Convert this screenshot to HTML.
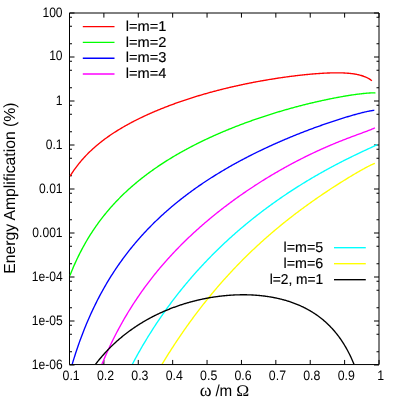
<!DOCTYPE html><html><head><meta charset="utf-8"><title>plot</title>
<style>html,body{margin:0;padding:0;background:#fff;}svg{display:block;will-change:transform;}text{font-family:"Liberation Sans",sans-serif;fill:#000;text-rendering:geometricPrecision;}</style></head><body>
<svg width="396" height="398" viewBox="0 0 396 398">
<rect width="396" height="398" fill="#fff"/>
<g stroke="#000" stroke-width="1" fill="none">
<path d="M69.50,13.00 L379.00,13.00 L379.00,364.55 L69.50,364.55 Z"/>
<path d="M69.50,364.55 v-4.6 M69.50,13.00 v4.6"/>
<path d="M103.89,364.55 v-4.6 M103.89,13.00 v4.6"/>
<path d="M138.28,364.55 v-4.6 M138.28,13.00 v4.6"/>
<path d="M172.67,364.55 v-4.6 M172.67,13.00 v4.6"/>
<path d="M207.06,364.55 v-4.6 M207.06,13.00 v4.6"/>
<path d="M241.44,364.55 v-4.6 M241.44,13.00 v4.6"/>
<path d="M275.83,364.55 v-4.6 M275.83,13.00 v4.6"/>
<path d="M310.22,364.55 v-4.6 M310.22,13.00 v4.6"/>
<path d="M344.61,364.55 v-4.6 M344.61,13.00 v4.6"/>
<path d="M379.00,364.55 v-4.6 M379.00,13.00 v4.6"/>
<path d="M69.50,13.00 h5 M379.00,13.00 h-5"/>
<path d="M69.50,43.75 h2.5 M379.00,43.75 h-2.5"/>
<path d="M69.50,26.25 h2.5 M379.00,26.25 h-2.5"/>
<path d="M69.50,17.26 h2.5 M379.00,17.26 h-2.5"/>
<path d="M69.50,57.00 h5 M379.00,57.00 h-5"/>
<path d="M69.50,87.75 h2.5 M379.00,87.75 h-2.5"/>
<path d="M69.50,70.25 h2.5 M379.00,70.25 h-2.5"/>
<path d="M69.50,61.26 h2.5 M379.00,61.26 h-2.5"/>
<path d="M69.50,101.00 h5 M379.00,101.00 h-5"/>
<path d="M69.50,131.75 h2.5 M379.00,131.75 h-2.5"/>
<path d="M69.50,114.25 h2.5 M379.00,114.25 h-2.5"/>
<path d="M69.50,105.26 h2.5 M379.00,105.26 h-2.5"/>
<path d="M69.50,145.00 h5 M379.00,145.00 h-5"/>
<path d="M69.50,175.75 h2.5 M379.00,175.75 h-2.5"/>
<path d="M69.50,158.25 h2.5 M379.00,158.25 h-2.5"/>
<path d="M69.50,149.26 h2.5 M379.00,149.26 h-2.5"/>
<path d="M69.50,189.00 h5 M379.00,189.00 h-5"/>
<path d="M69.50,219.75 h2.5 M379.00,219.75 h-2.5"/>
<path d="M69.50,202.25 h2.5 M379.00,202.25 h-2.5"/>
<path d="M69.50,193.26 h2.5 M379.00,193.26 h-2.5"/>
<path d="M69.50,233.00 h5 M379.00,233.00 h-5"/>
<path d="M69.50,263.75 h2.5 M379.00,263.75 h-2.5"/>
<path d="M69.50,246.25 h2.5 M379.00,246.25 h-2.5"/>
<path d="M69.50,237.26 h2.5 M379.00,237.26 h-2.5"/>
<path d="M69.50,277.00 h5 M379.00,277.00 h-5"/>
<path d="M69.50,307.75 h2.5 M379.00,307.75 h-2.5"/>
<path d="M69.50,290.25 h2.5 M379.00,290.25 h-2.5"/>
<path d="M69.50,281.26 h2.5 M379.00,281.26 h-2.5"/>
<path d="M69.50,321.00 h5 M379.00,321.00 h-5"/>
<path d="M69.50,351.75 h2.5 M379.00,351.75 h-2.5"/>
<path d="M69.50,334.25 h2.5 M379.00,334.25 h-2.5"/>
<path d="M69.50,325.26 h2.5 M379.00,325.26 h-2.5"/>
<path d="M69.50,365.00 h5 M379.00,365.00 h-5"/>
</g>
<defs><clipPath id="cp"><rect x="69.50" y="13.00" width="309.50" height="350.95"/></clipPath></defs>
<g fill="none" stroke-width="1.35" stroke-linejoin="round" clip-path="url(#cp)">
<path d="M70.00,176.18 L70.76,174.98 L71.51,173.80 L72.27,172.66 L73.03,171.54 L73.78,170.44 L74.54,169.37 L75.30,168.33 L76.05,167.30 L76.81,166.30 L77.57,165.32 L78.32,164.35 L79.08,163.41 L79.84,162.48 L80.59,161.57 L81.35,160.68 L82.11,159.81 L82.86,158.95 L83.62,158.11 L84.38,157.28 L85.13,156.46 L85.89,155.66 L86.65,154.88 L87.40,154.10 L88.16,153.34 L88.92,152.59 L89.67,151.85 L90.43,151.12 L91.19,150.41 L91.94,149.70 L92.70,149.01 L93.46,148.32 L94.21,147.65 L94.97,146.98 L95.73,146.33 L96.48,145.68 L97.24,145.04 L98.00,144.41 L98.75,143.79 L99.51,143.17 L100.27,142.57 L101.02,141.97 L101.78,141.38 L102.54,140.79 L103.29,140.22 L104.05,139.65 L104.81,139.08 L105.56,138.53 L106.32,137.97 L107.08,137.43 L107.83,136.89 L108.59,136.36 L109.35,135.83 L110.10,135.31 L110.86,134.80 L111.62,134.29 L112.37,133.78 L113.13,133.28 L113.89,132.79 L114.64,132.30 L115.40,131.81 L116.16,131.33 L116.91,130.86 L117.67,130.39 L118.43,129.92 L119.18,129.46 L119.94,129.00 L120.69,128.55 L121.45,128.10 L122.21,127.65 L122.96,127.21 L123.72,126.77 L124.48,126.34 L125.23,125.91 L125.99,125.48 L126.75,125.06 L127.50,124.64 L128.26,124.22 L129.02,123.81 L129.77,123.40 L130.53,122.99 L131.29,122.59 L132.04,122.19 L132.80,121.80 L133.56,121.40 L134.31,121.01 L135.07,120.63 L135.83,120.24 L136.58,119.86 L137.34,119.48 L138.10,119.11 L138.85,118.73 L139.61,118.36 L140.37,117.99 L141.12,117.63 L141.88,117.27 L142.64,116.91 L143.39,116.55 L144.15,116.20 L144.91,115.84 L145.66,115.49 L146.42,115.15 L147.18,114.80 L147.93,114.46 L148.69,114.12 L149.45,113.78 L150.20,113.44 L150.96,113.11 L151.72,112.78 L152.47,112.45 L153.23,112.12 L153.99,111.80 L154.74,111.47 L155.50,111.15 L156.26,110.84 L157.01,110.52 L157.77,110.20 L158.53,109.89 L159.28,109.58 L160.04,109.27 L160.80,108.96 L161.55,108.66 L162.31,108.36 L163.07,108.05 L163.82,107.76 L164.58,107.46 L165.34,107.16 L166.09,106.87 L166.85,106.58 L167.61,106.29 L168.36,106.00 L169.12,105.71 L169.88,105.42 L170.63,105.14 L171.39,104.86 L172.15,104.58 L172.90,104.30 L173.66,104.02 L174.42,103.75 L175.17,103.48 L175.93,103.20 L176.69,102.93 L177.44,102.66 L178.20,102.40 L178.96,102.13 L179.71,101.87 L180.47,101.60 L181.23,101.34 L181.98,101.08 L182.74,100.83 L183.50,100.57 L184.25,100.32 L185.01,100.06 L185.77,99.81 L186.52,99.56 L187.28,99.31 L188.04,99.06 L188.79,98.82 L189.55,98.57 L190.31,98.33 L191.06,98.09 L191.82,97.84 L192.58,97.61 L193.33,97.37 L194.09,97.13 L194.85,96.90 L195.60,96.66 L196.36,96.43 L197.12,96.20 L197.87,95.97 L198.63,95.74 L199.39,95.51 L200.14,95.29 L200.90,95.06 L201.66,94.84 L202.41,94.62 L203.17,94.40 L203.93,94.18 L204.68,93.96 L205.44,93.74 L206.20,93.53 L206.95,93.31 L207.71,93.10 L208.47,92.89 L209.22,92.68 L209.98,92.47 L210.74,92.26 L211.49,92.05 L212.25,91.85 L213.01,91.64 L213.76,91.44 L214.52,91.24 L215.28,91.04 L216.03,90.84 L216.79,90.64 L217.55,90.44 L218.30,90.25 L219.06,90.05 L219.82,89.86 L220.57,89.67 L221.33,89.48 L222.08,89.28 L222.84,89.10 L223.60,88.91 L224.35,88.72 L225.11,88.54 L225.87,88.35 L226.62,88.17 L227.38,87.99 L228.14,87.80 L228.89,87.62 L229.65,87.45 L230.41,87.27 L231.16,87.09 L231.92,86.91 L232.68,86.74 L233.43,86.57 L234.19,86.39 L234.95,86.22 L235.70,86.05 L236.46,85.88 L237.22,85.72 L237.97,85.55 L238.73,85.38 L239.49,85.22 L240.24,85.05 L241.00,84.89 L241.76,84.73 L242.51,84.57 L243.27,84.41 L244.03,84.25 L244.78,84.09 L245.54,83.94 L246.30,83.78 L247.05,83.63 L247.81,83.47 L248.57,83.32 L249.32,83.17 L250.08,83.02 L250.84,82.87 L251.59,82.72 L252.35,82.57 L253.11,82.43 L253.86,82.28 L254.62,82.14 L255.38,81.99 L256.13,81.85 L256.89,81.71 L257.65,81.57 L258.40,81.43 L259.16,81.29 L259.92,81.15 L260.67,81.02 L261.43,80.88 L262.19,80.75 L262.94,80.61 L263.70,80.48 L264.46,80.35 L265.21,80.22 L265.97,80.09 L266.73,79.96 L267.48,79.83 L268.24,79.70 L269.00,79.58 L269.75,79.45 L270.51,79.33 L271.27,79.21 L272.02,79.08 L272.78,78.96 L273.54,78.84 L274.29,78.72 L275.05,78.61 L275.81,78.49 L276.56,78.37 L277.32,78.26 L278.08,78.14 L278.83,78.03 L279.59,77.92 L280.35,77.80 L281.10,77.69 L281.86,77.58 L282.62,77.48 L283.37,77.37 L284.13,77.26 L284.89,77.16 L285.64,77.05 L286.40,76.95 L287.16,76.84 L287.91,76.74 L288.67,76.64 L289.43,76.54 L290.18,76.44 L290.94,76.34 L291.70,76.25 L292.45,76.15 L293.21,76.06 L293.97,75.96 L294.72,75.87 L295.48,75.78 L296.24,75.69 L296.99,75.60 L297.75,75.51 L298.51,75.42 L299.26,75.34 L300.02,75.25 L300.78,75.17 L301.53,75.08 L302.29,75.00 L303.05,74.92 L303.80,74.84 L304.56,74.76 L305.32,74.69 L306.07,74.61 L306.83,74.53 L307.59,74.46 L308.34,74.39 L309.10,74.32 L309.86,74.25 L310.61,74.18 L311.37,74.11 L312.13,74.04 L312.88,73.98 L313.64,73.92 L314.40,73.85 L315.15,73.79 L315.91,73.73 L316.67,73.68 L317.42,73.62 L318.18,73.57 L318.94,73.51 L319.69,73.46 L320.45,73.41 L321.21,73.36 L321.96,73.32 L322.72,73.27 L323.47,73.23 L324.23,73.19 L324.99,73.15 L325.74,73.11 L326.50,73.08 L327.26,73.04 L328.01,73.01 L328.77,72.98 L329.53,72.96 L330.28,72.93 L331.04,72.91 L331.80,72.89 L332.55,72.87 L333.31,72.86 L334.07,72.85 L334.82,72.84 L335.58,72.83 L336.34,72.83 L337.09,72.83 L337.85,72.83 L338.61,72.84 L339.36,72.85 L340.12,72.86 L340.88,72.88 L341.63,72.90 L342.39,72.92 L343.15,72.95 L343.90,72.98 L344.66,73.02 L345.42,73.06 L346.17,73.11 L346.93,73.16 L347.69,73.22 L348.44,73.28 L349.20,73.35 L349.96,73.42 L350.71,73.50 L351.47,73.59 L352.23,73.68 L352.98,73.79 L353.74,73.90 L354.50,74.01 L355.25,74.14 L356.01,74.27 L356.77,74.42 L357.52,74.57 L358.28,74.74 L359.04,74.92 L359.79,75.10 L360.55,75.31 L361.31,75.52 L362.06,75.75 L362.82,76.00 L363.58,76.26 L364.33,76.54 L365.09,76.84 L365.85,77.16 L366.60,77.51 L367.36,77.88 L368.12,78.27 L368.87,78.70 L369.63,79.16 L370.39,79.65 L371.14,80.18 L371.90,80.76" stroke="#ff0000"/>
<path d="M70.00,275.40 L70.77,273.46 L71.53,271.56 L72.30,269.70 L73.06,267.88 L73.83,266.10 L74.59,264.36 L75.36,262.65 L76.12,260.97 L76.89,259.33 L77.65,257.72 L78.42,256.14 L79.18,254.59 L79.95,253.06 L80.72,251.57 L81.48,250.09 L82.25,248.65 L83.01,247.23 L83.78,245.83 L84.54,244.46 L85.31,243.11 L86.07,241.78 L86.84,240.47 L87.60,239.18 L88.37,237.91 L89.14,236.66 L89.90,235.43 L90.67,234.21 L91.43,233.02 L92.20,231.84 L92.96,230.68 L93.73,229.53 L94.49,228.40 L95.26,227.28 L96.02,226.18 L96.79,225.10 L97.55,224.03 L98.32,222.97 L99.09,221.92 L99.85,220.89 L100.62,219.87 L101.38,218.87 L102.15,217.88 L102.91,216.89 L103.68,215.92 L104.44,214.97 L105.21,214.02 L105.97,213.08 L106.74,212.16 L107.51,211.24 L108.27,210.34 L109.04,209.44 L109.80,208.56 L110.57,207.68 L111.33,206.81 L112.10,205.96 L112.86,205.11 L113.63,204.27 L114.39,203.44 L115.16,202.62 L115.92,201.80 L116.69,201.00 L117.46,200.20 L118.22,199.41 L118.99,198.63 L119.75,197.85 L120.52,197.08 L121.28,196.32 L122.05,195.57 L122.81,194.83 L123.58,194.09 L124.34,193.35 L125.11,192.63 L125.88,191.91 L126.64,191.20 L127.41,190.49 L128.17,189.79 L128.94,189.10 L129.70,188.41 L130.47,187.73 L131.23,187.05 L132.00,186.38 L132.76,185.72 L133.53,185.06 L134.29,184.40 L135.06,183.75 L135.83,183.11 L136.59,182.47 L137.36,181.84 L138.12,181.21 L138.89,180.59 L139.65,179.97 L140.42,179.35 L141.18,178.75 L141.95,178.14 L142.71,177.54 L143.48,176.95 L144.25,176.36 L145.01,175.77 L145.78,175.19 L146.54,174.61 L147.31,174.04 L148.07,173.47 L148.84,172.90 L149.60,172.34 L150.37,171.79 L151.13,171.23 L151.90,170.68 L152.66,170.14 L153.43,169.60 L154.20,169.06 L154.96,168.52 L155.73,167.99 L156.49,167.47 L157.26,166.94 L158.02,166.42 L158.79,165.91 L159.55,165.39 L160.32,164.88 L161.08,164.38 L161.85,163.87 L162.62,163.37 L163.38,162.88 L164.15,162.38 L164.91,161.89 L165.68,161.41 L166.44,160.92 L167.21,160.44 L167.97,159.96 L168.74,159.49 L169.50,159.02 L170.27,158.55 L171.03,158.08 L171.80,157.62 L172.57,157.16 L173.33,156.70 L174.10,156.24 L174.86,155.79 L175.63,155.34 L176.39,154.89 L177.16,154.45 L177.92,154.01 L178.69,153.57 L179.45,153.13 L180.22,152.69 L180.98,152.26 L181.75,151.83 L182.52,151.41 L183.28,150.98 L184.05,150.56 L184.81,150.14 L185.58,149.72 L186.34,149.30 L187.11,148.89 L187.87,148.48 L188.64,148.07 L189.40,147.67 L190.17,147.26 L190.94,146.86 L191.70,146.46 L192.47,146.06 L193.23,145.67 L194.00,145.27 L194.76,144.88 L195.53,144.49 L196.29,144.11 L197.06,143.72 L197.82,143.34 L198.59,142.96 L199.35,142.58 L200.12,142.20 L200.89,141.83 L201.65,141.45 L202.42,141.08 L203.18,140.71 L203.95,140.34 L204.71,139.98 L205.48,139.62 L206.24,139.25 L207.01,138.89 L207.77,138.54 L208.54,138.18 L209.31,137.82 L210.07,137.47 L210.84,137.12 L211.60,136.77 L212.37,136.42 L213.13,136.08 L213.90,135.73 L214.66,135.39 L215.43,135.05 L216.19,134.71 L216.96,134.37 L217.72,134.04 L218.49,133.70 L219.26,133.37 L220.02,133.04 L220.79,132.71 L221.55,132.38 L222.32,132.06 L223.08,131.73 L223.85,131.41 L224.61,131.09 L225.38,130.77 L226.14,130.45 L226.91,130.13 L227.68,129.81 L228.44,129.50 L229.21,129.19 L229.97,128.88 L230.74,128.57 L231.50,128.26 L232.27,127.95 L233.03,127.65 L233.80,127.34 L234.56,127.04 L235.33,126.74 L236.09,126.44 L236.86,126.14 L237.63,125.85 L238.39,125.55 L239.16,125.26 L239.92,124.97 L240.69,124.67 L241.45,124.38 L242.22,124.10 L242.98,123.81 L243.75,123.52 L244.51,123.24 L245.28,122.96 L246.05,122.67 L246.81,122.39 L247.58,122.11 L248.34,121.84 L249.11,121.56 L249.87,121.29 L250.64,121.01 L251.40,120.74 L252.17,120.47 L252.93,120.20 L253.70,119.93 L254.46,119.66 L255.23,119.39 L256.00,119.13 L256.76,118.87 L257.53,118.60 L258.29,118.34 L259.06,118.08 L259.82,117.82 L260.59,117.56 L261.35,117.31 L262.12,117.05 L262.88,116.80 L263.65,116.55 L264.42,116.29 L265.18,116.04 L265.95,115.79 L266.71,115.55 L267.48,115.30 L268.24,115.05 L269.01,114.81 L269.77,114.56 L270.54,114.32 L271.30,114.08 L272.07,113.84 L272.83,113.60 L273.60,113.36 L274.37,113.13 L275.13,112.89 L275.90,112.66 L276.66,112.43 L277.43,112.19 L278.19,111.96 L278.96,111.73 L279.72,111.50 L280.49,111.28 L281.25,111.05 L282.02,110.83 L282.78,110.60 L283.55,110.38 L284.32,110.16 L285.08,109.94 L285.85,109.72 L286.61,109.50 L287.38,109.28 L288.14,109.06 L288.91,108.85 L289.67,108.63 L290.44,108.42 L291.20,108.21 L291.97,108.00 L292.74,107.79 L293.50,107.58 L294.27,107.37 L295.03,107.17 L295.80,106.96 L296.56,106.76 L297.33,106.55 L298.09,106.35 L298.86,106.15 L299.62,105.95 L300.39,105.75 L301.15,105.55 L301.92,105.36 L302.69,105.16 L303.45,104.97 L304.22,104.77 L304.98,104.58 L305.75,104.39 L306.51,104.20 L307.28,104.01 L308.04,103.82 L308.81,103.64 L309.57,103.45 L310.34,103.27 L311.11,103.08 L311.87,102.90 L312.64,102.72 L313.40,102.54 L314.17,102.36 L314.93,102.18 L315.70,102.01 L316.46,101.83 L317.23,101.65 L317.99,101.48 L318.76,101.31 L319.52,101.14 L320.29,100.97 L321.06,100.80 L321.82,100.63 L322.59,100.46 L323.35,100.30 L324.12,100.13 L324.88,99.97 L325.65,99.81 L326.41,99.65 L327.18,99.49 L327.94,99.33 L328.71,99.17 L329.48,99.01 L330.24,98.86 L331.01,98.70 L331.77,98.55 L332.54,98.40 L333.30,98.25 L334.07,98.10 L334.83,97.95 L335.60,97.81 L336.36,97.66 L337.13,97.52 L337.89,97.37 L338.66,97.23 L339.43,97.09 L340.19,96.95 L340.96,96.81 L341.72,96.68 L342.49,96.54 L343.25,96.41 L344.02,96.28 L344.78,96.15 L345.55,96.02 L346.31,95.89 L347.08,95.76 L347.85,95.64 L348.61,95.52 L349.38,95.40 L350.14,95.28 L350.91,95.16 L351.67,95.04 L352.44,94.93 L353.20,94.81 L353.97,94.70 L354.73,94.59 L355.50,94.49 L356.26,94.38 L357.03,94.28 L357.80,94.18 L358.56,94.08 L359.33,93.98 L360.09,93.89 L360.86,93.80 L361.62,93.71 L362.39,93.62 L363.15,93.54 L363.92,93.46 L364.68,93.38 L365.45,93.31 L366.22,93.24 L366.98,93.18 L367.75,93.12 L368.51,93.07 L369.28,93.02 L370.04,92.97 L370.81,92.94 L371.57,92.91 L372.34,92.90 L373.10,92.89 L373.87,92.90 L374.63,92.92 L375.40,92.97" stroke="#00ff00"/>
<path d="M71.79,365.64 L72.56,363.08 L73.32,360.56 L74.08,358.10 L74.85,355.68 L75.61,353.32 L76.38,351.00 L77.14,348.72 L77.90,346.48 L78.67,344.29 L79.43,342.14 L80.19,340.02 L80.96,337.94 L81.72,335.90 L82.49,333.89 L83.25,331.91 L84.01,329.97 L84.78,328.06 L85.54,326.18 L86.31,324.33 L87.07,322.50 L87.83,320.71 L88.60,318.94 L89.36,317.19 L90.13,315.48 L90.89,313.79 L91.65,312.12 L92.42,310.47 L93.18,308.85 L93.95,307.25 L94.71,305.67 L95.47,304.11 L96.24,302.58 L97.00,301.06 L97.76,299.56 L98.53,298.08 L99.29,296.62 L100.06,295.18 L100.82,293.76 L101.58,292.35 L102.35,290.96 L103.11,289.59 L103.88,288.23 L104.64,286.89 L105.40,285.57 L106.17,284.26 L106.93,282.96 L107.70,281.68 L108.46,280.41 L109.22,279.16 L109.99,277.92 L110.75,276.69 L111.52,275.48 L112.28,274.28 L113.04,273.09 L113.81,271.91 L114.57,270.75 L115.33,269.60 L116.10,268.46 L116.86,267.33 L117.63,266.21 L118.39,265.10 L119.15,264.01 L119.92,262.92 L120.68,261.85 L121.45,260.78 L122.21,259.73 L122.97,258.68 L123.74,257.65 L124.50,256.62 L125.27,255.60 L126.03,254.60 L126.79,253.60 L127.56,252.61 L128.32,251.63 L129.08,250.65 L129.85,249.69 L130.61,248.73 L131.38,247.79 L132.14,246.85 L132.90,245.92 L133.67,244.99 L134.43,244.07 L135.20,243.17 L135.96,242.26 L136.72,241.37 L137.49,240.48 L138.25,239.60 L139.02,238.73 L139.78,237.87 L140.54,237.01 L141.31,236.15 L142.07,235.31 L142.84,234.47 L143.60,233.64 L144.36,232.81 L145.13,231.99 L145.89,231.17 L146.65,230.37 L147.42,229.56 L148.18,228.77 L148.95,227.98 L149.71,227.19 L150.47,226.41 L151.24,225.64 L152.00,224.87 L152.77,224.11 L153.53,223.35 L154.29,222.60 L155.06,221.85 L155.82,221.11 L156.59,220.37 L157.35,219.64 L158.11,218.91 L158.88,218.19 L159.64,217.47 L160.41,216.76 L161.17,216.05 L161.93,215.35 L162.70,214.65 L163.46,213.96 L164.22,213.27 L164.99,212.59 L165.75,211.91 L166.52,211.23 L167.28,210.56 L168.04,209.89 L168.81,209.23 L169.57,208.57 L170.34,207.91 L171.10,207.26 L171.86,206.61 L172.63,205.97 L173.39,205.33 L174.16,204.70 L174.92,204.06 L175.68,203.44 L176.45,202.81 L177.21,202.19 L177.98,201.57 L178.74,200.96 L179.50,200.35 L180.27,199.75 L181.03,199.14 L181.79,198.54 L182.56,197.95 L183.32,197.36 L184.09,196.77 L184.85,196.18 L185.61,195.60 L186.38,195.02 L187.14,194.44 L187.91,193.87 L188.67,193.30 L189.43,192.74 L190.20,192.17 L190.96,191.61 L191.73,191.06 L192.49,190.50 L193.25,189.95 L194.02,189.40 L194.78,188.86 L195.55,188.31 L196.31,187.77 L197.07,187.24 L197.84,186.70 L198.60,186.17 L199.36,185.64 L200.13,185.12 L200.89,184.60 L201.66,184.08 L202.42,183.56 L203.18,183.04 L203.95,182.53 L204.71,182.02 L205.48,181.51 L206.24,181.01 L207.00,180.51 L207.77,180.01 L208.53,179.51 L209.30,179.01 L210.06,178.52 L210.82,178.03 L211.59,177.54 L212.35,177.06 L213.12,176.58 L213.88,176.10 L214.64,175.62 L215.41,175.14 L216.17,174.67 L216.93,174.20 L217.70,173.73 L218.46,173.26 L219.23,172.80 L219.99,172.33 L220.75,171.87 L221.52,171.41 L222.28,170.96 L223.05,170.50 L223.81,170.05 L224.57,169.60 L225.34,169.15 L226.10,168.71 L226.87,168.26 L227.63,167.82 L228.39,167.38 L229.16,166.95 L229.92,166.51 L230.68,166.08 L231.45,165.64 L232.21,165.21 L232.98,164.78 L233.74,164.36 L234.50,163.93 L235.27,163.51 L236.03,163.09 L236.80,162.67 L237.56,162.25 L238.32,161.84 L239.09,161.43 L239.85,161.01 L240.62,160.60 L241.38,160.20 L242.14,159.79 L242.91,159.38 L243.67,158.98 L244.44,158.58 L245.20,158.18 L245.96,157.78 L246.73,157.39 L247.49,156.99 L248.25,156.60 L249.02,156.21 L249.78,155.82 L250.55,155.43 L251.31,155.04 L252.07,154.66 L252.84,154.27 L253.60,153.89 L254.37,153.51 L255.13,153.13 L255.89,152.76 L256.66,152.38 L257.42,152.01 L258.19,151.63 L258.95,151.26 L259.71,150.89 L260.48,150.52 L261.24,150.16 L262.01,149.79 L262.77,149.43 L263.53,149.07 L264.30,148.71 L265.06,148.35 L265.82,147.99 L266.59,147.63 L267.35,147.28 L268.12,146.92 L268.88,146.57 L269.64,146.22 L270.41,145.87 L271.17,145.52 L271.94,145.17 L272.70,144.83 L273.46,144.48 L274.23,144.14 L274.99,143.80 L275.76,143.46 L276.52,143.12 L277.28,142.78 L278.05,142.45 L278.81,142.11 L279.58,141.78 L280.34,141.44 L281.10,141.11 L281.87,140.78 L282.63,140.45 L283.39,140.13 L284.16,139.80 L284.92,139.47 L285.69,139.15 L286.45,138.83 L287.21,138.51 L287.98,138.19 L288.74,137.87 L289.51,137.55 L290.27,137.23 L291.03,136.92 L291.80,136.60 L292.56,136.29 L293.33,135.98 L294.09,135.67 L294.85,135.36 L295.62,135.05 L296.38,134.74 L297.15,134.44 L297.91,134.13 L298.67,133.83 L299.44,133.53 L300.20,133.23 L300.96,132.93 L301.73,132.63 L302.49,132.33 L303.26,132.03 L304.02,131.74 L304.78,131.44 L305.55,131.15 L306.31,130.86 L307.08,130.56 L307.84,130.27 L308.60,129.99 L309.37,129.70 L310.13,129.41 L310.90,129.12 L311.66,128.84 L312.42,128.56 L313.19,128.27 L313.95,127.99 L314.72,127.71 L315.48,127.43 L316.24,127.16 L317.01,126.88 L317.77,126.60 L318.53,126.33 L319.30,126.06 L320.06,125.78 L320.83,125.51 L321.59,125.24 L322.35,124.97 L323.12,124.70 L323.88,124.44 L324.65,124.17 L325.41,123.91 L326.17,123.64 L326.94,123.38 L327.70,123.12 L328.47,122.86 L329.23,122.60 L329.99,122.34 L330.76,122.08 L331.52,121.83 L332.28,121.57 L333.05,121.32 L333.81,121.07 L334.58,120.82 L335.34,120.57 L336.10,120.32 L336.87,120.07 L337.63,119.82 L338.40,119.58 L339.16,119.33 L339.92,119.09 L340.69,118.85 L341.45,118.61 L342.22,118.37 L342.98,118.13 L343.74,117.89 L344.51,117.66 L345.27,117.43 L346.04,117.19 L346.80,116.96 L347.56,116.73 L348.33,116.50 L349.09,116.28 L349.85,116.05 L350.62,115.83 L351.38,115.61 L352.15,115.39 L352.91,115.17 L353.67,114.95 L354.44,114.74 L355.20,114.52 L355.97,114.31 L356.73,114.10 L357.49,113.89 L358.26,113.69 L359.02,113.49 L359.79,113.29 L360.55,113.09 L361.31,112.89 L362.08,112.70 L362.84,112.51 L363.61,112.32 L364.37,112.14 L365.13,111.96 L365.90,111.79 L366.66,111.61 L367.42,111.45 L368.19,111.29 L368.95,111.13 L369.72,110.98 L370.48,110.84 L371.24,110.71 L372.01,110.58 L372.77,110.47 L373.54,110.37 L374.30,110.29" stroke="#0000ff"/>
<path d="M100.88,366.72 L101.65,364.86 L102.41,363.02 L103.18,361.20 L103.94,359.41 L104.71,357.64 L105.47,355.89 L106.24,354.17 L107.01,352.46 L107.77,350.78 L108.54,349.12 L109.30,347.47 L110.07,345.85 L110.83,344.25 L111.60,342.66 L112.36,341.09 L113.13,339.54 L113.89,338.01 L114.66,336.50 L115.42,335.00 L116.19,333.52 L116.96,332.05 L117.72,330.60 L118.49,329.16 L119.25,327.74 L120.02,326.34 L120.78,324.95 L121.55,323.57 L122.31,322.21 L123.08,320.86 L123.84,319.52 L124.61,318.20 L125.38,316.89 L126.14,315.59 L126.91,314.31 L127.67,313.03 L128.44,311.77 L129.20,310.52 L129.97,309.29 L130.73,308.06 L131.50,306.84 L132.26,305.64 L133.03,304.45 L133.79,303.26 L134.56,302.09 L135.33,300.93 L136.09,299.77 L136.86,298.63 L137.62,297.50 L138.39,296.37 L139.15,295.26 L139.92,294.15 L140.68,293.05 L141.45,291.97 L142.21,290.89 L142.98,289.82 L143.75,288.76 L144.51,287.70 L145.28,286.66 L146.04,285.62 L146.81,284.59 L147.57,283.57 L148.34,282.55 L149.10,281.55 L149.87,280.55 L150.63,279.55 L151.40,278.57 L152.16,277.59 L152.93,276.62 L153.70,275.66 L154.46,274.70 L155.23,273.75 L155.99,272.81 L156.76,271.87 L157.52,270.94 L158.29,270.01 L159.05,269.10 L159.82,268.18 L160.58,267.28 L161.35,266.38 L162.12,265.48 L162.88,264.59 L163.65,263.71 L164.41,262.83 L165.18,261.96 L165.94,261.10 L166.71,260.24 L167.47,259.38 L168.24,258.53 L169.00,257.69 L169.77,256.85 L170.53,256.01 L171.30,255.18 L172.07,254.36 L172.83,253.54 L173.60,252.72 L174.36,251.91 L175.13,251.11 L175.89,250.31 L176.66,249.51 L177.42,248.72 L178.19,247.93 L178.95,247.15 L179.72,246.37 L180.48,245.60 L181.25,244.83 L182.02,244.06 L182.78,243.30 L183.55,242.55 L184.31,241.79 L185.08,241.04 L185.84,240.30 L186.61,239.56 L187.37,238.82 L188.14,238.09 L188.90,237.36 L189.67,236.63 L190.44,235.91 L191.20,235.19 L191.97,234.48 L192.73,233.77 L193.50,233.06 L194.26,232.36 L195.03,231.65 L195.79,230.96 L196.56,230.26 L197.32,229.57 L198.09,228.89 L198.85,228.20 L199.62,227.52 L200.39,226.85 L201.15,226.17 L201.92,225.50 L202.68,224.84 L203.45,224.17 L204.21,223.51 L204.98,222.85 L205.74,222.20 L206.51,221.55 L207.27,220.90 L208.04,220.25 L208.81,219.61 L209.57,218.97 L210.34,218.33 L211.10,217.70 L211.87,217.07 L212.63,216.44 L213.40,215.82 L214.16,215.19 L214.93,214.57 L215.69,213.96 L216.46,213.34 L217.22,212.73 L217.99,212.12 L218.76,211.51 L219.52,210.91 L220.29,210.31 L221.05,209.71 L221.82,209.11 L222.58,208.52 L223.35,207.93 L224.11,207.34 L224.88,206.75 L225.64,206.17 L226.41,205.59 L227.18,205.01 L227.94,204.44 L228.71,203.86 L229.47,203.29 L230.24,202.72 L231.00,202.15 L231.77,201.59 L232.53,201.03 L233.30,200.47 L234.06,199.91 L234.83,199.36 L235.59,198.80 L236.36,198.25 L237.13,197.71 L237.89,197.16 L238.66,196.62 L239.42,196.07 L240.19,195.53 L240.95,195.00 L241.72,194.46 L242.48,193.93 L243.25,193.40 L244.01,192.87 L244.78,192.34 L245.55,191.82 L246.31,191.30 L247.08,190.78 L247.84,190.26 L248.61,189.74 L249.37,189.23 L250.14,188.72 L250.90,188.21 L251.67,187.70 L252.43,187.20 L253.20,186.69 L253.96,186.19 L254.73,185.69 L255.50,185.19 L256.26,184.70 L257.03,184.20 L257.79,183.71 L258.56,183.22 L259.32,182.73 L260.09,182.25 L260.85,181.76 L261.62,181.28 L262.38,180.80 L263.15,180.32 L263.92,179.85 L264.68,179.37 L265.45,178.90 L266.21,178.43 L266.98,177.96 L267.74,177.50 L268.51,177.03 L269.27,176.57 L270.04,176.11 L270.80,175.65 L271.57,175.19 L272.33,174.73 L273.10,174.28 L273.87,173.83 L274.63,173.38 L275.40,172.93 L276.16,172.48 L276.93,172.04 L277.69,171.60 L278.46,171.16 L279.22,170.72 L279.99,170.28 L280.75,169.84 L281.52,169.41 L282.28,168.98 L283.05,168.55 L283.82,168.12 L284.58,167.69 L285.35,167.27 L286.11,166.84 L286.88,166.42 L287.64,166.00 L288.41,165.59 L289.17,165.17 L289.94,164.76 L290.70,164.34 L291.47,163.93 L292.24,163.52 L293.00,163.12 L293.77,162.71 L294.53,162.31 L295.30,161.90 L296.06,161.50 L296.83,161.10 L297.59,160.71 L298.36,160.31 L299.12,159.92 L299.89,159.53 L300.65,159.14 L301.42,158.75 L302.19,158.36 L302.95,157.98 L303.72,157.59 L304.48,157.21 L305.25,156.83 L306.01,156.45 L306.78,156.08 L307.54,155.70 L308.31,155.33 L309.07,154.96 L309.84,154.59 L310.61,154.22 L311.37,153.85 L312.14,153.49 L312.90,153.12 L313.67,152.76 L314.43,152.40 L315.20,152.04 L315.96,151.69 L316.73,151.33 L317.49,150.98 L318.26,150.63 L319.02,150.28 L319.79,149.93 L320.56,149.58 L321.32,149.24 L322.09,148.89 L322.85,148.55 L323.62,148.21 L324.38,147.87 L325.15,147.54 L325.91,147.20 L326.68,146.87 L327.44,146.54 L328.21,146.21 L328.98,145.88 L329.74,145.55 L330.51,145.22 L331.27,144.90 L332.04,144.58 L332.80,144.25 L333.57,143.93 L334.33,143.62 L335.10,143.30 L335.86,142.98 L336.63,142.67 L337.39,142.36 L338.16,142.05 L338.93,141.74 L339.69,141.43 L340.46,141.12 L341.22,140.82 L341.99,140.52 L342.75,140.21 L343.52,139.91 L344.28,139.61 L345.05,139.31 L345.81,139.02 L346.58,138.72 L347.35,138.43 L348.11,138.13 L348.88,137.84 L349.64,137.55 L350.41,137.26 L351.17,136.97 L351.94,136.69 L352.70,136.40 L353.47,136.11 L354.23,135.83 L355.00,135.54 L355.76,135.26 L356.53,134.98 L357.30,134.70 L358.06,134.41 L358.83,134.13 L359.59,133.85 L360.36,133.57 L361.12,133.29 L361.89,133.01 L362.65,132.73 L363.42,132.45 L364.18,132.17 L364.95,131.88 L365.72,131.60 L366.48,131.31 L367.25,131.02 L368.01,130.73 L368.78,130.44 L369.54,130.14 L370.31,129.84 L371.07,129.53 L371.84,129.22 L372.60,128.90 L373.37,128.56 L374.13,128.22 L374.90,127.85" stroke="#ff00ff"/>
<path d="M131.21,366.38 L131.99,364.90 L132.76,363.44 L133.53,361.99 L134.30,360.56 L135.07,359.13 L135.84,357.72 L136.61,356.31 L137.39,354.92 L138.16,353.54 L138.93,352.17 L139.70,350.81 L140.47,349.46 L141.24,348.12 L142.01,346.78 L142.79,345.46 L143.56,344.15 L144.33,342.85 L145.10,341.56 L145.87,340.28 L146.64,339.00 L147.41,337.74 L148.19,336.48 L148.96,335.24 L149.73,334.00 L150.50,332.77 L151.27,331.55 L152.04,330.33 L152.81,329.13 L153.59,327.93 L154.36,326.75 L155.13,325.57 L155.90,324.39 L156.67,323.23 L157.44,322.07 L158.21,320.92 L158.99,319.78 L159.76,318.64 L160.53,317.52 L161.30,316.40 L162.07,315.28 L162.84,314.18 L163.61,313.08 L164.39,311.99 L165.16,310.90 L165.93,309.82 L166.70,308.75 L167.47,307.68 L168.24,306.62 L169.01,305.57 L169.79,304.53 L170.56,303.49 L171.33,302.45 L172.10,301.42 L172.87,300.40 L173.64,299.39 L174.41,298.38 L175.19,297.37 L175.96,296.37 L176.73,295.38 L177.50,294.39 L178.27,293.41 L179.04,292.44 L179.81,291.47 L180.59,290.50 L181.36,289.54 L182.13,288.59 L182.90,287.64 L183.67,286.70 L184.44,285.76 L185.21,284.83 L185.99,283.90 L186.76,282.98 L187.53,282.06 L188.30,281.15 L189.07,280.24 L189.84,279.34 L190.61,278.44 L191.39,277.54 L192.16,276.65 L192.93,275.77 L193.70,274.89 L194.47,274.02 L195.24,273.15 L196.01,272.28 L196.79,271.42 L197.56,270.56 L198.33,269.71 L199.10,268.86 L199.87,268.02 L200.64,267.18 L201.41,266.34 L202.19,265.51 L202.96,264.68 L203.73,263.86 L204.50,263.04 L205.27,262.23 L206.04,261.42 L206.81,260.61 L207.59,259.81 L208.36,259.01 L209.13,258.21 L209.90,257.42 L210.67,256.63 L211.44,255.85 L212.21,255.07 L212.99,254.29 L213.76,253.52 L214.53,252.75 L215.30,251.99 L216.07,251.22 L216.84,250.47 L217.61,249.71 L218.39,248.96 L219.16,248.21 L219.93,247.47 L220.70,246.73 L221.47,245.99 L222.24,245.26 L223.01,244.53 L223.79,243.80 L224.56,243.08 L225.33,242.36 L226.10,241.64 L226.87,240.93 L227.64,240.22 L228.41,239.51 L229.19,238.81 L229.96,238.10 L230.73,237.41 L231.50,236.71 L232.27,236.02 L233.04,235.33 L233.81,234.65 L234.59,233.96 L235.36,233.28 L236.13,232.61 L236.90,231.93 L237.67,231.26 L238.44,230.60 L239.21,229.93 L239.99,229.27 L240.76,228.61 L241.53,227.95 L242.30,227.30 L243.07,226.65 L243.84,226.00 L244.61,225.36 L245.39,224.71 L246.16,224.07 L246.93,223.44 L247.70,222.80 L248.47,222.17 L249.24,221.54 L250.01,220.92 L250.79,220.29 L251.56,219.67 L252.33,219.05 L253.10,218.44 L253.87,217.83 L254.64,217.21 L255.41,216.61 L256.19,216.00 L256.96,215.40 L257.73,214.80 L258.50,214.20 L259.27,213.60 L260.04,213.01 L260.81,212.42 L261.59,211.83 L262.36,211.25 L263.13,210.66 L263.90,210.08 L264.67,209.50 L265.44,208.93 L266.21,208.35 L266.99,207.78 L267.76,207.21 L268.53,206.64 L269.30,206.08 L270.07,205.51 L270.84,204.95 L271.61,204.40 L272.39,203.84 L273.16,203.29 L273.93,202.73 L274.70,202.19 L275.47,201.64 L276.24,201.09 L277.01,200.55 L277.79,200.01 L278.56,199.47 L279.33,198.93 L280.10,198.40 L280.87,197.87 L281.64,197.34 L282.41,196.81 L283.19,196.28 L283.96,195.76 L284.73,195.24 L285.50,194.72 L286.27,194.20 L287.04,193.68 L287.81,193.17 L288.59,192.66 L289.36,192.15 L290.13,191.64 L290.90,191.14 L291.67,190.63 L292.44,190.13 L293.21,189.63 L293.99,189.13 L294.76,188.64 L295.53,188.14 L296.30,187.65 L297.07,187.16 L297.84,186.67 L298.61,186.18 L299.39,185.70 L300.16,185.21 L300.93,184.73 L301.70,184.25 L302.47,183.78 L303.24,183.30 L304.01,182.83 L304.79,182.36 L305.56,181.88 L306.33,181.42 L307.10,180.95 L307.87,180.48 L308.64,180.02 L309.41,179.56 L310.19,179.10 L310.96,178.64 L311.73,178.19 L312.50,177.73 L313.27,177.28 L314.04,176.83 L314.81,176.38 L315.59,175.93 L316.36,175.48 L317.13,175.04 L317.90,174.60 L318.67,174.16 L319.44,173.72 L320.21,173.28 L320.99,172.84 L321.76,172.41 L322.53,171.97 L323.30,171.54 L324.07,171.11 L324.84,170.68 L325.61,170.26 L326.39,169.83 L327.16,169.41 L327.93,168.99 L328.70,168.57 L329.47,168.15 L330.24,167.73 L331.01,167.32 L331.79,166.90 L332.56,166.49 L333.33,166.08 L334.10,165.67 L334.87,165.26 L335.64,164.85 L336.41,164.45 L337.19,164.04 L337.96,163.64 L338.73,163.24 L339.50,162.84 L340.27,162.44 L341.04,162.05 L341.81,161.65 L342.59,161.26 L343.36,160.87 L344.13,160.47 L344.90,160.08 L345.67,159.70 L346.44,159.31 L347.21,158.92 L347.99,158.54 L348.76,158.16 L349.53,157.78 L350.30,157.39 L351.07,157.02 L351.84,156.64 L352.61,156.26 L353.39,155.89 L354.16,155.51 L354.93,155.14 L355.70,154.77 L356.47,154.40 L357.24,154.03 L358.01,153.66 L358.79,153.29 L359.56,152.93 L360.33,152.56 L361.10,152.20 L361.87,151.83 L362.64,151.47 L363.41,151.11 L364.19,150.75 L364.96,150.39 L365.73,150.03 L366.50,149.67 L367.27,149.31 L368.04,148.96 L368.81,148.60 L369.59,148.24 L370.36,147.88 L371.13,147.53 L371.90,147.17 L372.67,146.81 L373.44,146.45 L374.21,146.09 L374.99,145.72 L375.76,145.36 L376.53,144.98 L377.30,144.60" stroke="#00ffff"/>
<path d="M160.58,366.66 L161.35,365.39 L162.12,364.12 L162.88,362.86 L163.65,361.60 L164.41,360.35 L165.18,359.11 L165.94,357.87 L166.71,356.64 L167.47,355.41 L168.24,354.19 L169.00,352.98 L169.77,351.78 L170.53,350.58 L171.30,349.38 L172.07,348.19 L172.83,347.01 L173.60,345.83 L174.36,344.66 L175.13,343.50 L175.89,342.34 L176.66,341.19 L177.42,340.04 L178.19,338.90 L178.95,337.76 L179.72,336.63 L180.48,335.51 L181.25,334.39 L182.02,333.28 L182.78,332.17 L183.55,331.06 L184.31,329.97 L185.08,328.88 L185.84,327.79 L186.61,326.71 L187.37,325.63 L188.14,324.56 L188.90,323.49 L189.67,322.43 L190.44,321.38 L191.20,320.33 L191.97,319.28 L192.73,318.24 L193.50,317.21 L194.26,316.18 L195.03,315.15 L195.79,314.13 L196.56,313.12 L197.32,312.10 L198.09,311.10 L198.85,310.10 L199.62,309.10 L200.39,308.11 L201.15,307.12 L201.92,306.14 L202.68,305.16 L203.45,304.19 L204.21,303.22 L204.98,302.26 L205.74,301.30 L206.51,300.34 L207.27,299.39 L208.04,298.45 L208.81,297.51 L209.57,296.57 L210.34,295.64 L211.10,294.71 L211.87,293.78 L212.63,292.86 L213.40,291.95 L214.16,291.04 L214.93,290.13 L215.69,289.23 L216.46,288.33 L217.22,287.43 L217.99,286.54 L218.76,285.66 L219.52,284.78 L220.29,283.90 L221.05,283.02 L221.82,282.15 L222.58,281.29 L223.35,280.42 L224.11,279.57 L224.88,278.71 L225.64,277.86 L226.41,277.01 L227.18,276.17 L227.94,275.33 L228.71,274.50 L229.47,273.67 L230.24,272.84 L231.00,272.01 L231.77,271.19 L232.53,270.38 L233.30,269.56 L234.06,268.75 L234.83,267.95 L235.59,267.15 L236.36,266.35 L237.13,265.55 L237.89,264.76 L238.66,263.97 L239.42,263.19 L240.19,262.40 L240.95,261.63 L241.72,260.85 L242.48,260.08 L243.25,259.31 L244.01,258.55 L244.78,257.79 L245.55,257.03 L246.31,256.27 L247.08,255.52 L247.84,254.78 L248.61,254.03 L249.37,253.29 L250.14,252.55 L250.90,251.82 L251.67,251.08 L252.43,250.35 L253.20,249.63 L253.96,248.90 L254.73,248.18 L255.50,247.47 L256.26,246.75 L257.03,246.04 L257.79,245.34 L258.56,244.63 L259.32,243.93 L260.09,243.23 L260.85,242.53 L261.62,241.84 L262.38,241.15 L263.15,240.46 L263.92,239.78 L264.68,239.09 L265.45,238.42 L266.21,237.74 L266.98,237.07 L267.74,236.39 L268.51,235.73 L269.27,235.06 L270.04,234.40 L270.80,233.74 L271.57,233.08 L272.33,232.43 L273.10,231.77 L273.87,231.12 L274.63,230.48 L275.40,229.83 L276.16,229.19 L276.93,228.55 L277.69,227.91 L278.46,227.28 L279.22,226.65 L279.99,226.02 L280.75,225.39 L281.52,224.76 L282.28,224.14 L283.05,223.52 L283.82,222.90 L284.58,222.29 L285.35,221.67 L286.11,221.06 L286.88,220.45 L287.64,219.85 L288.41,219.24 L289.17,218.64 L289.94,218.04 L290.70,217.45 L291.47,216.85 L292.24,216.26 L293.00,215.67 L293.77,215.08 L294.53,214.49 L295.30,213.91 L296.06,213.32 L296.83,212.74 L297.59,212.17 L298.36,211.59 L299.12,211.02 L299.89,210.44 L300.65,209.87 L301.42,209.30 L302.19,208.74 L302.95,208.17 L303.72,207.61 L304.48,207.05 L305.25,206.49 L306.01,205.94 L306.78,205.38 L307.54,204.83 L308.31,204.28 L309.07,203.73 L309.84,203.18 L310.61,202.64 L311.37,202.09 L312.14,201.55 L312.90,201.01 L313.67,200.47 L314.43,199.94 L315.20,199.40 L315.96,198.87 L316.73,198.34 L317.49,197.81 L318.26,197.28 L319.02,196.75 L319.79,196.23 L320.56,195.71 L321.32,195.18 L322.09,194.66 L322.85,194.15 L323.62,193.63 L324.38,193.11 L325.15,192.60 L325.91,192.09 L326.68,191.58 L327.44,191.07 L328.21,190.56 L328.98,190.06 L329.74,189.55 L330.51,189.05 L331.27,188.55 L332.04,188.05 L332.80,187.55 L333.57,187.06 L334.33,186.56 L335.10,186.07 L335.86,185.58 L336.63,185.09 L337.39,184.60 L338.16,184.11 L338.93,183.63 L339.69,183.14 L340.46,182.66 L341.22,182.18 L341.99,181.70 L342.75,181.22 L343.52,180.74 L344.28,180.27 L345.05,179.80 L345.81,179.32 L346.58,178.85 L347.35,178.38 L348.11,177.92 L348.88,177.45 L349.64,176.99 L350.41,176.53 L351.17,176.06 L351.94,175.61 L352.70,175.15 L353.47,174.69 L354.23,174.24 L355.00,173.79 L355.76,173.34 L356.53,172.89 L357.30,172.45 L358.06,172.00 L358.83,171.56 L359.59,171.12 L360.36,170.69 L361.12,170.25 L361.89,169.82 L362.65,169.40 L363.42,168.97 L364.18,168.55 L364.95,168.13 L365.72,167.72 L366.48,167.31 L367.25,166.91 L368.01,166.51 L368.78,166.12 L369.54,165.73 L370.31,165.35 L371.07,164.98 L371.84,164.62 L372.60,164.27 L373.37,163.93 L374.13,163.61 L374.90,163.31" stroke="#ffff00"/>
<path d="M94.50,365.63 L95.15,364.76 L95.81,363.91 L96.46,363.06 L97.11,362.23 L97.76,361.41 L98.42,360.60 L99.07,359.80 L99.72,359.00 L100.38,358.22 L101.03,357.45 L101.68,356.69 L102.33,355.93 L102.99,355.19 L103.64,354.45 L104.29,353.72 L104.95,353.00 L105.60,352.29 L106.25,351.59 L106.90,350.90 L107.56,350.21 L108.21,349.53 L108.86,348.86 L109.52,348.20 L110.17,347.54 L110.82,346.89 L111.47,346.25 L112.13,345.61 L112.78,344.99 L113.43,344.37 L114.09,343.75 L114.74,343.14 L115.39,342.54 L116.05,341.95 L116.70,341.36 L117.35,340.78 L118.00,340.20 L118.66,339.63 L119.31,339.07 L119.96,338.51 L120.62,337.96 L121.27,337.41 L121.92,336.87 L122.57,336.34 L123.23,335.81 L123.88,335.29 L124.53,334.77 L125.19,334.25 L125.84,333.75 L126.49,333.24 L127.14,332.74 L127.80,332.25 L128.45,331.76 L129.10,331.28 L129.76,330.80 L130.41,330.33 L131.06,329.86 L131.71,329.40 L132.37,328.94 L133.02,328.48 L133.67,328.03 L134.33,327.58 L134.98,327.14 L135.63,326.70 L136.28,326.27 L136.94,325.84 L137.59,325.42 L138.24,325.00 L138.90,324.58 L139.55,324.17 L140.20,323.76 L140.85,323.36 L141.51,322.96 L142.16,322.56 L142.81,322.17 L143.47,321.78 L144.12,321.39 L144.77,321.01 L145.42,320.64 L146.08,320.26 L146.73,319.89 L147.38,319.52 L148.04,319.16 L148.69,318.80 L149.34,318.45 L149.99,318.09 L150.65,317.74 L151.30,317.40 L151.95,317.06 L152.61,316.72 L153.26,316.38 L153.91,316.05 L154.57,315.72 L155.22,315.40 L155.87,315.07 L156.52,314.75 L157.18,314.44 L157.83,314.12 L158.48,313.81 L159.14,313.51 L159.79,313.20 L160.44,312.90 L161.09,312.60 L161.75,312.31 L162.40,312.02 L163.05,311.73 L163.71,311.44 L164.36,311.16 L165.01,310.88 L165.66,310.60 L166.32,310.33 L166.97,310.05 L167.62,309.79 L168.28,309.52 L168.93,309.26 L169.58,309.00 L170.23,308.74 L170.89,308.48 L171.54,308.23 L172.19,307.98 L172.85,307.73 L173.50,307.49 L174.15,307.25 L174.80,307.01 L175.46,306.77 L176.11,306.54 L176.76,306.31 L177.42,306.08 L178.07,305.85 L178.72,305.63 L179.37,305.40 L180.03,305.19 L180.68,304.97 L181.33,304.76 L181.99,304.54 L182.64,304.33 L183.29,304.13 L183.94,303.92 L184.60,303.72 L185.25,303.52 L185.90,303.33 L186.56,303.13 L187.21,302.94 L187.86,302.75 L188.52,302.56 L189.17,302.38 L189.82,302.19 L190.47,302.01 L191.13,301.84 L191.78,301.66 L192.43,301.49 L193.09,301.32 L193.74,301.15 L194.39,300.98 L195.04,300.82 L195.70,300.65 L196.35,300.49 L197.00,300.34 L197.66,300.18 L198.31,300.03 L198.96,299.88 L199.61,299.73 L200.27,299.58 L200.92,299.44 L201.57,299.30 L202.23,299.16 L202.88,299.02 L203.53,298.89 L204.18,298.75 L204.84,298.62 L205.49,298.49 L206.14,298.37 L206.80,298.24 L207.45,298.12 L208.10,298.00 L208.75,297.88 L209.41,297.77 L210.06,297.65 L210.71,297.54 L211.37,297.43 L212.02,297.33 L212.67,297.22 L213.32,297.12 L213.98,297.02 L214.63,296.92 L215.28,296.82 L215.94,296.73 L216.59,296.64 L217.24,296.55 L217.89,296.46 L218.55,296.38 L219.20,296.29 L219.85,296.21 L220.51,296.13 L221.16,296.06 L221.81,295.98 L222.46,295.91 L223.12,295.84 L223.77,295.77 L224.42,295.71 L225.08,295.64 L225.73,295.58 L226.38,295.52 L227.04,295.47 L227.69,295.41 L228.34,295.36 L228.99,295.31 L229.65,295.26 L230.30,295.21 L230.95,295.17 L231.61,295.13 L232.26,295.09 L232.91,295.05 L233.56,295.02 L234.22,294.98 L234.87,294.95 L235.52,294.92 L236.18,294.90 L236.83,294.87 L237.48,294.85 L238.13,294.83 L238.79,294.82 L239.44,294.80 L240.09,294.79 L240.75,294.78 L241.40,294.77 L242.05,294.77 L242.70,294.76 L243.36,294.76 L244.01,294.76 L244.66,294.77 L245.32,294.77 L245.97,294.78 L246.62,294.79 L247.27,294.81 L247.93,294.82 L248.58,294.84 L249.23,294.86 L249.89,294.89 L250.54,294.91 L251.19,294.94 L251.84,294.97 L252.50,295.00 L253.15,295.04 L253.80,295.08 L254.46,295.12 L255.11,295.16 L255.76,295.21 L256.41,295.26 L257.07,295.31 L257.72,295.36 L258.37,295.42 L259.03,295.48 L259.68,295.54 L260.33,295.60 L260.98,295.67 L261.64,295.74 L262.29,295.81 L262.94,295.89 L263.60,295.96 L264.25,296.04 L264.90,296.13 L265.56,296.22 L266.21,296.30 L266.86,296.40 L267.51,296.49 L268.17,296.59 L268.82,296.69 L269.47,296.80 L270.13,296.90 L270.78,297.01 L271.43,297.13 L272.08,297.24 L272.74,297.36 L273.39,297.49 L274.04,297.61 L274.70,297.74 L275.35,297.87 L276.00,298.01 L276.65,298.15 L277.31,298.29 L277.96,298.44 L278.61,298.59 L279.27,298.74 L279.92,298.89 L280.57,299.05 L281.22,299.22 L281.88,299.38 L282.53,299.56 L283.18,299.73 L283.84,299.91 L284.49,300.09 L285.14,300.27 L285.79,300.46 L286.45,300.66 L287.10,300.85 L287.75,301.06 L288.41,301.26 L289.06,301.47 L289.71,301.68 L290.36,301.90 L291.02,302.12 L291.67,302.35 L292.32,302.58 L292.98,302.82 L293.63,303.06 L294.28,303.30 L294.93,303.55 L295.59,303.80 L296.24,304.06 L296.89,304.32 L297.55,304.59 L298.20,304.86 L298.85,305.14 L299.51,305.42 L300.16,305.71 L300.81,306.01 L301.46,306.30 L302.12,306.61 L302.77,306.92 L303.42,307.23 L304.08,307.55 L304.73,307.88 L305.38,308.21 L306.03,308.55 L306.69,308.89 L307.34,309.25 L307.99,309.60 L308.65,309.97 L309.30,310.34 L309.95,310.71 L310.60,311.09 L311.26,311.48 L311.91,311.88 L312.56,312.29 L313.22,312.70 L313.87,313.11 L314.52,313.54 L315.17,313.97 L315.83,314.42 L316.48,314.87 L317.13,315.32 L317.79,315.79 L318.44,316.26 L319.09,316.75 L319.74,317.24 L320.40,317.74 L321.05,318.25 L321.70,318.77 L322.36,319.30 L323.01,319.84 L323.66,320.39 L324.31,320.95 L324.97,321.52 L325.62,322.10 L326.27,322.69 L326.93,323.29 L327.58,323.91 L328.23,324.53 L328.88,325.17 L329.54,325.82 L330.19,326.49 L330.84,327.16 L331.50,327.85 L332.15,328.56 L332.80,329.28 L333.45,330.01 L334.11,330.76 L334.76,331.52 L335.41,332.31 L336.07,333.10 L336.72,333.92 L337.37,334.75 L338.03,335.60 L338.68,336.47 L339.33,337.35 L339.98,338.26 L340.64,339.19 L341.29,340.14 L341.94,341.11 L342.60,342.10 L343.25,343.12 L343.90,344.16 L344.55,345.23 L345.21,346.32 L345.86,347.44 L346.51,348.59 L347.17,349.77 L347.82,350.98 L348.47,352.22 L349.12,353.50 L349.78,354.81 L350.43,356.16 L351.08,357.54 L351.74,358.97 L352.39,360.44 L353.04,361.95 L353.69,363.50 L354.35,365.11 L355.00,366.77" stroke="#000000"/>
</g>
<text font-size="13" text-anchor="end" transform="translate(62.6,16.60) scale(0.93,1.05)">100</text>
<text font-size="13" text-anchor="end" transform="translate(62.6,60.44) scale(0.93,1.05)">10</text>
<text font-size="13" text-anchor="end" transform="translate(62.6,105.24) scale(0.93,1.05)">1</text>
<text font-size="13" text-anchor="end" transform="translate(62.6,149.43) scale(0.93,1.05)">0.1</text>
<text font-size="13" text-anchor="end" transform="translate(62.6,193.38) scale(0.93,1.05)">0.01</text>
<text font-size="13" text-anchor="end" transform="translate(62.6,237.12) scale(0.93,1.05)">0.001</text>
<text font-size="13" text-anchor="end" transform="translate(62.6,280.91) scale(0.93,1.05)">1e-04</text>
<text font-size="13" text-anchor="end" transform="translate(62.6,324.91) scale(0.93,1.05)">1e-05</text>
<text font-size="13" text-anchor="end" transform="translate(62.6,368.65) scale(0.93,1.05)">1e-06</text>
<text font-size="13" text-anchor="middle" transform="translate(71.10,380.0) scale(0.95,1.05)">0.1</text>
<text font-size="13" text-anchor="middle" transform="translate(105.49,380.0) scale(0.95,1.05)">0.2</text>
<text font-size="13" text-anchor="middle" transform="translate(139.88,380.0) scale(0.95,1.05)">0.3</text>
<text font-size="13" text-anchor="middle" transform="translate(174.27,380.0) scale(0.95,1.05)">0.4</text>
<text font-size="13" text-anchor="middle" transform="translate(208.66,380.0) scale(0.95,1.05)">0.5</text>
<text font-size="13" text-anchor="middle" transform="translate(243.04,380.0) scale(0.95,1.05)">0.6</text>
<text font-size="13" text-anchor="middle" transform="translate(277.43,380.0) scale(0.95,1.05)">0.7</text>
<text font-size="13" text-anchor="middle" transform="translate(311.82,380.0) scale(0.95,1.05)">0.8</text>
<text font-size="13" text-anchor="middle" transform="translate(346.21,380.0) scale(0.95,1.05)">0.9</text>
<text font-size="13" text-anchor="middle" transform="translate(380.60,380.0) scale(0.95,1.05)">1</text>
<text font-size="18" style="font-family:'Liberation Serif',serif" transform="translate(199.7,395.6)">ω</text>
<text font-size="16" transform="translate(215.4,395.6) scale(0.95,1)">/m</text>
<text font-size="16.2" style="font-family:'Liberation Serif',serif" transform="translate(236.3,395.6) scale(1.08,1)">Ω</text>
<text font-size="16" text-anchor="middle" transform="translate(15.1,188.15) rotate(-90)" textLength="171.4" lengthAdjust="spacingAndGlyphs">Energy Amplification (%)</text>
<g fill="none" stroke-width="1.35">
<path d="M82.8,26.60 H114.5" stroke="#ff0000"/>
<path d="M82.8,42.40 H114.5" stroke="#00ff00"/>
<path d="M82.8,58.20 H114.5" stroke="#0000ff"/>
<path d="M82.8,74.00 H114.5" stroke="#ff00ff"/>
<path d="M334.0,247.70 H365.8" stroke="#00ffff"/>
<path d="M334.0,263.70 H365.8" stroke="#ffff00"/>
<path d="M334.0,279.70 H365.8" stroke="#000000"/>
</g>
<text font-size="14" stroke="#000" stroke-width="0.15" transform="translate(125.8,30.70) scale(1.045,1.02)">l=m=1</text>
<text font-size="14" stroke="#000" stroke-width="0.15" transform="translate(125.8,46.50) scale(1.045,1.02)">l=m=2</text>
<text font-size="14" stroke="#000" stroke-width="0.15" transform="translate(125.8,62.30) scale(1.045,1.02)">l=m=3</text>
<text font-size="14" stroke="#000" stroke-width="0.15" transform="translate(125.8,78.10) scale(1.045,1.02)">l=m=4</text>
<text font-size="14" stroke="#000" stroke-width="0.15" text-anchor="end" transform="translate(323.3,252.00) scale(1.020,1.02)">l=m=5</text>
<text font-size="14" stroke="#000" stroke-width="0.15" text-anchor="end" transform="translate(323.3,268.00) scale(1.020,1.02)">l=m=6</text>
<text font-size="14" stroke="#000" stroke-width="0.15" text-anchor="end" transform="translate(323.3,284.00) scale(0.985,1.02)">l=2, m=1</text>
</svg></body></html>
